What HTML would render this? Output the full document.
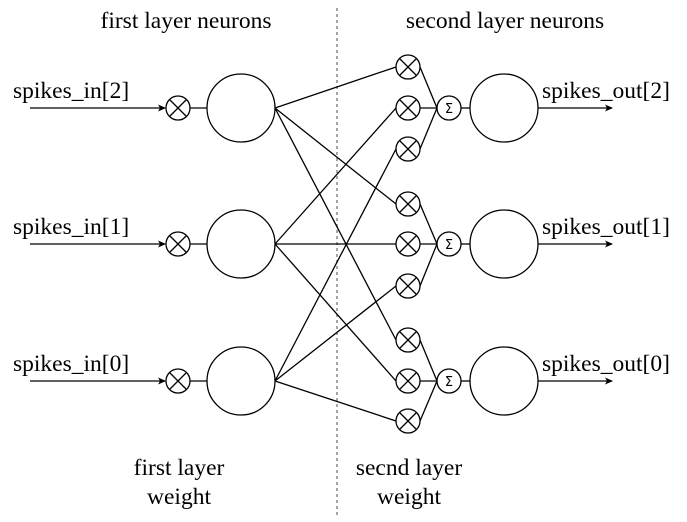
<!DOCTYPE html>
<html><head><style>body{margin:0;background:#fff}svg{display:block}</style></head><body>
<svg width="687" height="522" xmlns="http://www.w3.org/2000/svg" font-family="Liberation Serif, serif" font-size="23.5" fill="#000">
<defs><marker id="a" markerWidth="8" markerHeight="8" refX="7" refY="4" orient="auto" markerUnits="userSpaceOnUse"><path d="M0,0.5 L8,4 L0,7.5 L2,4z" fill="#000"/></marker></defs>
<line x1="337" y1="8" x2="337" y2="518" stroke="#888" stroke-width="1.5" stroke-dasharray="3,3"/>
<text x="186" y="28" text-anchor="middle">first layer neurons</text>
<text x="505" y="28" text-anchor="middle">second layer neurons</text>
<g stroke="#000" stroke-width="1.3" fill="none">
<line x1="30" y1="108" x2="165" y2="108" marker-end="url(#a)"/>
<line x1="30" y1="244" x2="165" y2="244" marker-end="url(#a)"/>
<line x1="30" y1="381" x2="165" y2="381" marker-end="url(#a)"/>
<line x1="190" y1="108" x2="207" y2="108"/><line x1="190" y1="244" x2="207" y2="244"/><line x1="190" y1="381" x2="207" y2="381"/>
<circle cx="178" cy="108" r="12" fill="#fff"/><circle cx="178" cy="244" r="12" fill="#fff"/><circle cx="178" cy="381" r="12" fill="#fff"/>
<path d="M170,100 l16,16 M186,100 l-16,16 M170,236 l16,16 M186,236 l-16,16 M170,373 l16,16 M186,373 l-16,16"/>
<circle cx="241" cy="108" r="34"/><circle cx="241" cy="244" r="34"/><circle cx="241" cy="381" r="34"/>
<path d="M275,108 L396,67 M275,108 L396,204 M275,108 L396,340
M275,244 L396,108 M275,244 L396,244 M275,244 L396,381
M275,381 L396,149 M275,381 L396,286 M275,381 L396,421"/>
<path d="M420,67 L437,108 M420,108 L437,108 M420,149 L437,108
M420,204 L437,244 M420,244 L437,244 M420,286 L437,244
M420,340 L437,381 M420,381 L437,381 M420,421 L437,381"/>
<g fill="#fff">
<circle cx="408" cy="67" r="12"/><circle cx="408" cy="108" r="12"/><circle cx="408" cy="149" r="12"/>
<circle cx="408" cy="204" r="12"/><circle cx="408" cy="244" r="12"/><circle cx="408" cy="286" r="12"/>
<circle cx="408" cy="340" r="12"/><circle cx="408" cy="381" r="12"/><circle cx="408" cy="421" r="12"/>
</g>
<path d="M400,59 l16,16 M416,59 l-16,16 M400,100 l16,16 M416,100 l-16,16 M400,141 l16,16 M416,141 l-16,16
M400,196 l16,16 M416,196 l-16,16 M400,236 l16,16 M416,236 l-16,16 M400,278 l16,16 M416,278 l-16,16
M400,332 l16,16 M416,332 l-16,16 M400,373 l16,16 M416,373 l-16,16 M400,413 l16,16 M416,413 l-16,16"/>
<circle cx="449" cy="108" r="12"/><circle cx="449" cy="244" r="12"/><circle cx="449" cy="381" r="12"/>
<line x1="461" y1="108" x2="470" y2="108"/><line x1="461" y1="244" x2="470" y2="244"/><line x1="461" y1="381" x2="470" y2="381"/>
<circle cx="504" cy="108" r="34"/><circle cx="504" cy="244" r="34"/><circle cx="504" cy="381" r="34"/>
<line x1="538" y1="108" x2="612" y2="108" marker-end="url(#a)"/>
<line x1="538" y1="244" x2="612" y2="244" marker-end="url(#a)"/>
<line x1="538" y1="381" x2="612" y2="381" marker-end="url(#a)"/>
</g>
<g font-family="DejaVu Sans, sans-serif" font-size="13" text-anchor="middle">
<text x="449" y="113">Σ</text><text x="449" y="249">Σ</text><text x="449" y="386">Σ</text>
</g>
<text x="13" y="98">spikes_in[2]</text>
<text x="13" y="234">spikes_in[1]</text>
<text x="13" y="371">spikes_in[0]</text>
<text x="542" y="98">spikes_out[2]</text>
<text x="542" y="234">spikes_out[1]</text>
<text x="542" y="371">spikes_out[0]</text>
<text x="179" y="475" text-anchor="middle">first layer</text>
<text x="179" y="504" text-anchor="middle">weight</text>
<text x="409" y="475" text-anchor="middle">secnd layer</text>
<text x="409" y="504" text-anchor="middle">weight</text>
</svg>
</body></html>
